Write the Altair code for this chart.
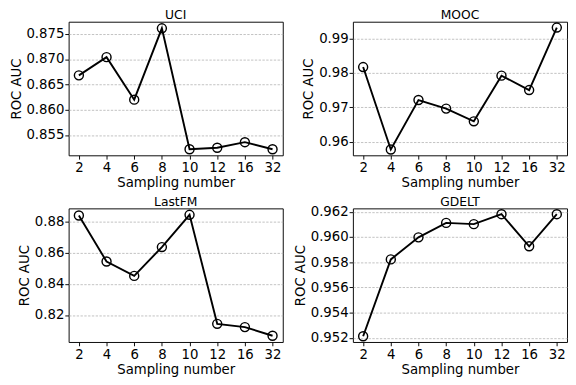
import altair as alt
import pandas as pd

samples = ["2", "4", "6", "8", "10", "12", "16", "32"]

uci = [0.8668, 0.8704, 0.8620, 0.8761, 0.8522, 0.8525, 0.8536, 0.8522]
mooc = [0.9817, 0.9577, 0.9721, 0.9696, 0.9659, 0.9792, 0.9750, 0.9932]
lastfm = [0.8837, 0.8543, 0.8451, 0.8635, 0.8841, 0.8145, 0.8124, 0.8069]
gdelt = [0.95213, 0.95823, 0.95998, 0.96113, 0.96103, 0.96182, 0.95927, 0.96182]

uci_ticks = [0.855, 0.860, 0.865, 0.870, 0.875]
mooc_ticks = [0.96, 0.97, 0.98, 0.99]
lastfm_ticks = [0.82, 0.84, 0.86, 0.88]
gdelt_ticks = [0.952, 0.954, 0.956, 0.958, 0.960, 0.962]

FONT = "DejaVu Sans"
W, H = 226, 141


def panel(name, vals, domain, ticks, fmt):
    df = pd.DataFrame({"Sampling number": samples, "ROC AUC": vals})
    base = alt.Chart(df).encode(
        x=alt.X(
            "Sampling number:N",
            sort=samples,
            scale=alt.Scale(type="point", padding=0.37),
            axis=alt.Axis(title="Sampling number", labelAngle=0, grid=False,
                          titlePadding=2, labelPadding=2),
        ),
        y=alt.Y(
            "ROC AUC:Q",
            scale=alt.Scale(domain=domain, nice=False, zero=False),
            axis=alt.Axis(values=ticks, format=fmt, title="ROC AUC", grid=True,
                          titlePadding=3, labelPadding=1),
        ),
    )
    line = base.mark_line(color="black", strokeWidth=2)
    pts = base.mark_point(shape="circle", filled=False, color="black",
                          size=90, strokeWidth=1.5, opacity=1)
    title = alt.Chart(pd.DataFrame({"t": [name]})).mark_text(
        font=FONT, fontSize=13, color="black", align="center", baseline="alphabetic"
    ).encode(text="t:N", x=alt.value(W / 2), y=alt.value(-3))
    return alt.layer(line, pts, title).properties(width=W, height=H)


p1 = panel("UCI", uci, [0.851, 0.8774], uci_ticks, ".3f")
p2 = panel("MOOC", mooc, [0.956, 0.9949], mooc_ticks, ".2f")
p3 = panel("LastFM", lastfm, [0.8029, 0.8882], lastfm_ticks, ".2f")
p4 = panel("GDELT", gdelt, [0.95167, 0.96228], gdelt_ticks, ".3f")

chart = alt.concat(p1, p2, p3, p4, columns=2, spacing={"row": 5, "column": 10}).properties(
    padding={"top": -10, "left": 1, "right": 0, "bottom": 0}
).configure_view(
    stroke="black", strokeWidth=1
).configure_axis(
    domain=False,
    tickColor="black",
    tickSize=4,
    labelFont=FONT,
    labelFontSize=14,
    labelColor="black",
    titleFont=FONT,
    titleFontSize=14,
    titleFontWeight="normal",
    titleColor="black",
    gridColor="#b0b0b0",
    gridDash=[2.5, 1.5],
    gridWidth=0.8,
)

chart.save("out.html", embed_options={"renderer": "svg", "actions": False})
